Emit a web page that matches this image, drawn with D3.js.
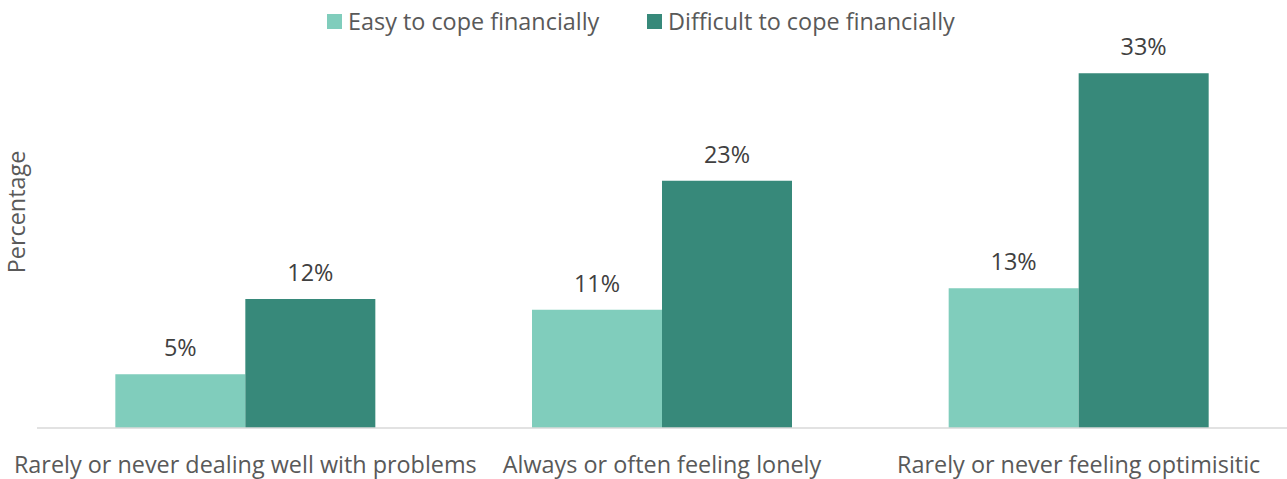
<!DOCTYPE html>
<html><head><meta charset="utf-8">
<script src="https://cdn.jsdelivr.net/npm/d3@7"></script>
<style>
body{margin:0;background:#fff;}
text{font-family:"Open Sans",sans-serif;}
</style></head>
<body><svg id="chart" width="1287" height="479"></svg>
<script>
const categories = ["Rarely or never dealing well with problems","Always or often feeling lonely","Rarely or never feeling optimisitic"];
const seriesNames = ["Easy to cope financially","Difficult to cope financially"];
const easyValues = [5, 11, 13];
const difficultValues = [12, 23, 33];
const colors = ["#80CDBC", "#37897A"];
const yTitle = "Percentage";

const svg = d3.select("#chart");
const W = 1287, H = 479;
const left = 37, right = 1287, baseY = 428;
const FONT = '"Open Sans",sans-serif';
const FS = 23.4;

const x0 = d3.scaleBand().domain(categories).range([left, right]).paddingInner(0.376).paddingOuter(0.188);
const x1 = d3.scaleBand().domain(seriesNames).range([0, x0.bandwidth()]);
const y = d3.scaleLinear().domain([0, 35]).range([baseY, baseY - 376.25]);
const color = d3.scaleOrdinal().domain(seriesNames).range(colors);

const data = categories.map((c, i) => ({cat: c, vals: [
  {s: seriesNames[0], v: easyValues[i]},
  {s: seriesNames[1], v: difficultValues[i]}]}));

const g = svg.selectAll("g.grp").data(data).join("g").attr("class","grp")
  .attr("transform", d => `translate(${x0(d.cat)},0)`);
g.selectAll("rect").data(d => d.vals).join("rect")
  .attr("x", d => x1(d.s)).attr("width", x1.bandwidth())
  .attr("y", d => y(d.v)).attr("height", d => y(0) - y(d.v))
  .attr("fill", d => color(d.s));
g.selectAll("text.lbl").data(d => d.vals).join("text").attr("class","lbl")
  .attr("x", d => x1(d.s) + x1.bandwidth()/2).attr("y", d => y(d.v) - 18)
  .attr("text-anchor","middle").attr("font-size", FS).attr("fill","#404040")
  .text(d => d.v + "%");

// x axis
const xAxis = d3.axisBottom(x0).tickSize(0).tickPadding(0);
const ax = svg.append("g").attr("transform", `translate(0,${baseY})`).call(xAxis);
ax.select(".domain").attr("stroke","#d9d9d9").attr("stroke-width",1.5).attr("d", `M${left},0H${right}`);
ax.selectAll(".tick text").attr("font-size", FS).attr("fill","#595959")
  .attr("font-family", FONT)
  .attr("dy", null).attr("y", 45);

// y title
svg.append("text").attr("transform", "translate(25,212) rotate(-90)")
  .attr("text-anchor","middle").attr("font-size", FS).attr("fill","#595959").text(yTitle);

// legend
const legendX = [327, 647];
const lg = svg.selectAll("g.leg").data(seriesNames).join("g").attr("class","leg")
  .attr("transform", (d, i) => `translate(${legendX[i]},0)`);
lg.append("rect").attr("x",0).attr("y",14).attr("width",15).attr("height",15).attr("fill", d => color(d));
lg.append("text").attr("x",21).attr("y",30).attr("font-size",FS).attr("fill","#595959").text(d => d);
</script></body></html>
